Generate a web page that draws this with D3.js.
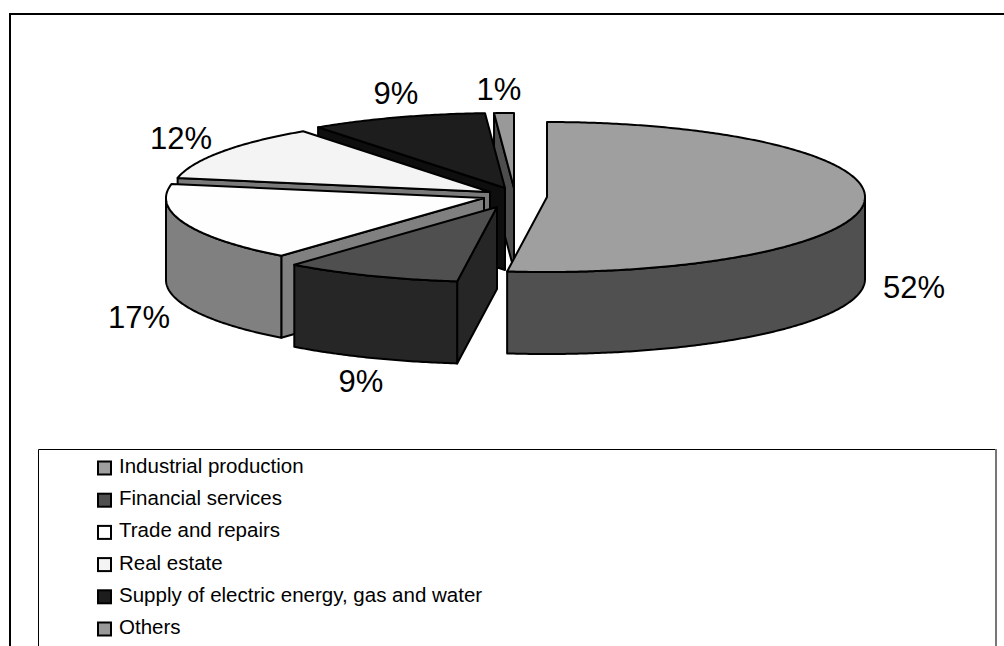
<!DOCTYPE html>
<html>
<head>
<meta charset="utf-8">
<script src="https://cdn.jsdelivr.net/npm/d3@7/dist/d3.min.js"></script>
<style>
  html, body { margin: 0; padding: 0; background: #fff; }
  svg { display: block; }
  text { font-family: "Liberation Sans", Arial, sans-serif; fill: #000; }
</style>
</head>
<body>
<svg id="chart" width="1004" height="646"></svg>
<script>
// Sector shares, in percent
const categories = [
  "Industrial production",
  "Financial services",
  "Trade and repairs",
  "Real estate",
  "Supply of electric energy, gas and water",
  "Others"
];
const shares = [52, 9, 17, 12, 9, 1];

// Shading of each wedge: top face and side walls
const topColours  = ["#9f9f9f", "#4f4f4f", "#fefefe", "#f4f4f4", "#1d1d1d", "#999999"];
const sideColours = ["#505050", "#262626", "#808080", "#7a7a7a", "#0e0e0e", "#4d4d4d"];

// Exploded wedge centres and the label anchor of every wedge
const wedgeCentres = [[547, 197], [497, 207], [484, 198], [490, 192], [505, 188], [514, 188]];
const labelAnchors = [[914, 298], [361, 392], [139, 328], [181, 149], [396, 104], [499, 100]];

const rx = 318, ry = 75, depth = 82;
const svg = d3.select("#chart");

// Outer frame runs off the right and bottom of the page
svg.append("path").attr("d", "M10,654V14H1004")
  .attr("fill", "none").attr("stroke", "#000").attr("stroke-width", 2);

// Legend box: thin top and left rules, a heavier grey rule on the right
svg.append("path").attr("d", "M38.5,654V449.5H996")
  .attr("fill", "none").attr("stroke", "#000").attr("stroke-width", 1);
svg.append("path").attr("d", "M996,449V654")
  .attr("fill", "none").attr("stroke", "#777", ).attr("stroke-width", 2);

const arcs = d3.pie().sort(null).startAngle(0).endAngle(2 * Math.PI)(shares);
const line = d3.line();

// Screen position of a rim point, with the pie angle measured clockwise from the back
const rim = (c, a, drop = 0) => [c[0] + rx * Math.sin(a), c[1] - ry * Math.cos(a) + drop];

const rimPoints = (c, a0, a1, drop = 0) => {
  const n = Math.max(2, Math.ceil((a1 - a0) / 0.01));
  return d3.range(n + 1).map(i => rim(c, a0 + (a1 - a0) * i / n, drop));
};

// Paint from the back of the pie to the front so nearer wedges cover farther ones
const paintOrder = [5, 4, 3, 2, 1, 0];
const wedges = svg.append("g").attr("stroke", "#000").attr("stroke-width", 2)
  .attr("stroke-linejoin", "round");

paintOrder.forEach(i => {
  const d = arcs[i], c = wedgeCentres[i], g = wedges.append("g");

  // Cut face along the leading edge, only visible when it turns towards the viewer
  if (d.startAngle > Math.PI) {
    const e = rim(c, d.startAngle);
    g.append("path").attr("fill", sideColours[i])
      .attr("d", line([c, e, [e[0], e[1] + depth], [c[0], c[1] + depth]]) + "Z");
  }

  // Curved outer wall over the front half of the ellipse
  const w0 = Math.max(d.startAngle, Math.PI / 2);
  const w1 = Math.min(d.endAngle, 3 * Math.PI / 2);
  if (w1 > w0) {
    const upper = rimPoints(c, w0, w1);
    const lower = rimPoints(c, w0, w1, depth).reverse();
    g.append("path").attr("fill", sideColours[i]).attr("d", line(upper.concat(lower)) + "Z");
  }

  // Top face
  g.append("path").attr("fill", topColours[i])
    .attr("d", line([c].concat(rimPoints(c, d.startAngle, d.endAngle))) + "Z");
});

// Percentage labels
svg.append("g").selectAll("text").data(shares).join("text")
  .attr("x", (d, i) => labelAnchors[i][0])
  .attr("y", (d, i) => labelAnchors[i][1])
  .attr("text-anchor", "middle")
  .attr("font-size", 31)
  .text(d => d + "%");

// Legend entries
const legendY = d3.scalePoint().domain(categories).range([468, 629]);
const legend = svg.append("g").selectAll("g").data(categories).join("g")
  .attr("transform", d => `translate(97,${legendY(d)})`);
legend.append("rect").attr("x", 1).attr("y", -6.5).attr("width", 13).attr("height", 13)
  .attr("fill", (d, i) => topColours[i]).attr("stroke", "#000").attr("stroke-width", 2);
legend.append("text").attr("x", 22).attr("y", 5).attr("font-size", 20.5).text(d => d);
</script>
</body>
</html>
